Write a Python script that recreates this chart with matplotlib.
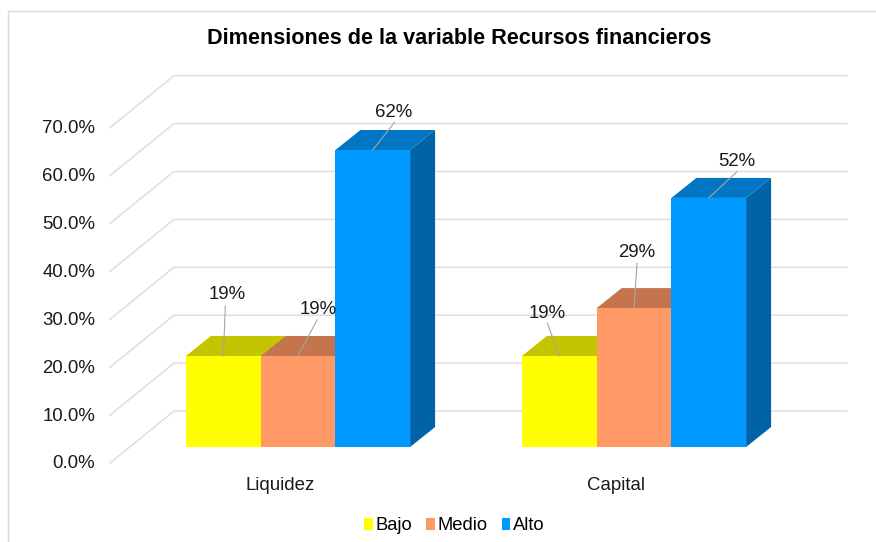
import matplotlib
matplotlib.use("Agg")
import matplotlib.pyplot as plt
from matplotlib.patches import Polygon, Rectangle

categories = ["Liquidez", "Capital"]
series_names = ["Bajo", "Medio", "Alto"]
bajo = [19, 19]
medio = [19, 29]
alto = [62, 52]
series_values = [bajo, medio, alto]
y_ticks = [0, 10, 20, 30, 40, 50, 60, 70]
front = ["#FFFF00", "#FF9966", "#0099FF"]
top = ["#C4C400", "#C4754E", "#0076C4"]
side = ["#9A9A00", "#A8623F", "#0063A8"]

W, H = 876, 542
plt.rcParams["font.family"] = ["Liberation Sans", "DejaVu Sans"]
fig = plt.figure(figsize=(W / 100, H / 100), dpi=100, facecolor="white")

ppu_y = 4.79
ppu_x = 336.0
y0_px = 447.0
x0_px = 186.0
ax = fig.add_axes([0, 0, 1, 1])
ax.set_xlim(-x0_px / ppu_x, (W - x0_px) / ppu_x)
ax.set_ylim((y0_px - H) / ppu_y, y0_px / ppu_y)
ax.axis("off")

dx = 25 / ppu_x
dy = 20 / ppu_y
bw = 74.7 / ppu_x

fig.add_artist(Rectangle((8 / W, -2 / H), (880 - 8) / W, (H - 11 + 2) / H, transform=fig.transFigure,
                         fill=False, ec="#D9D9D9", lw=1))

fx = (110 - x0_px) / ppu_x
fy = (463 - y0_px) / -ppu_y
bx = (174 - x0_px) / ppu_x
wall_dy = 52 / ppu_y
right = (847 - x0_px) / ppu_x
for t in y_ticks:
    ax.plot([fx, bx, right], [t + fy, t + fy + wall_dy, t + fy + wall_dy], color="#DEDEDE", lw=1.1, zorder=1)
    ax.text(fx - 15 / ppu_x, t + fy - 0.2, f"{t:.1f}%", ha="right", va="center", fontsize=13.4, color="#1a1a1a")

# label centre offset from the bar's front-top midpoint, in pixels
label_pts = {(0, 0): (4, 61), (1, 0): (20, 46), (2, 0): (21, 38),
             (0, 1): (-12, 42.5), (1, 1): (3, 56), (2, 1): (28, 36.5)}
# leader end offset from the bar's front-top midpoint, in pixels
leader_pts = {(0, 0): (2, 50), (1, 0): (19, 36), (2, 0): (22, 28),
              (0, 1): (-12, 33), (1, 1): (3, 45), (2, 1): (28, 26)}

for c in range(len(categories)):
    for s in range(len(series_names)):
        v = series_values[s][c]
        x = c + s * bw
        ax.add_patch(Polygon([(x + bw, 0), (x + bw + dx, dy), (x + bw + dx, v + dy), (x + bw, v)],
                             fc=side[s], ec="none", zorder=3 + s))
        ax.add_patch(Polygon([(x, v), (x + dx, v + dy), (x + bw + dx, v + dy), (x + bw, v)],
                             fc=top[s], ec="none", zorder=3 + s))
        ax.add_patch(Rectangle((x, 0), bw, v, fc=front[s], ec="none", zorder=3 + s))
        mid = x + bw / 2
        ox, oy = label_pts[(s, c)]
        lx, ly = leader_pts[(s, c)]
        ax.plot([mid, mid + lx / ppu_x], [v, v + ly / ppu_y], color="#A6A6A6", lw=0.8, zorder=10)
        ax.text(mid + ox / ppu_x, v + oy / ppu_y, f"{v}%", ha="center", va="center",
                fontsize=13.4, color="#1a1a1a", zorder=11)

for c, name in enumerate(categories):
    ax.text(c + 1.5 * bw - 18 / ppu_x, (y0_px - 486) / ppu_y, name, ha="center", va="center",
            fontsize=13.4, color="#1a1a1a")

ax.text((459 - x0_px) / ppu_x, (y0_px - 39) / ppu_y, "Dimensiones de la variable Recursos financieros",
        ha="center", va="center", fontsize=15.6, fontweight="bold", color="black")

handles = [Rectangle((0, 0), 1, 1, fc=f, ec="none") for f in front]
fig.legend(handles, series_names, loc="center", bbox_to_anchor=(454.5 / W, 1 - 526 / H), ncol=3,
           frameon=False, fontsize=13.2, handlelength=0.47, handleheight=0.55, handletextpad=0.15,
           columnspacing=0.75)

fig.savefig("out.png", dpi=100)
